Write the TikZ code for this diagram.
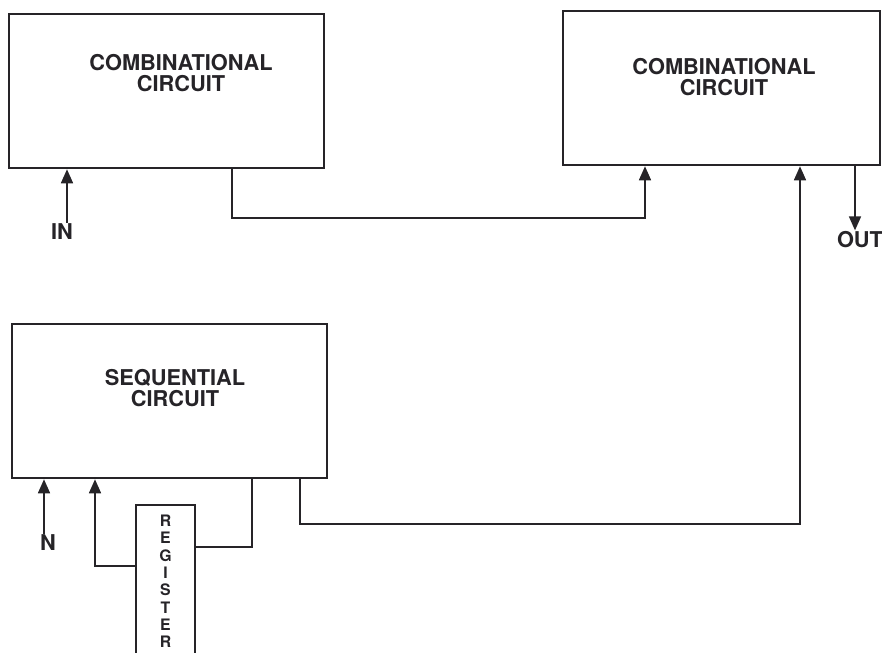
\documentclass[tikz,border=0pt]{standalone}
\usepackage{fontspec}
\setsansfont{TeX Gyre Heros}
\usetikzlibrary{positioning,arrows.meta,calc}
\definecolor{ink}{RGB}{38,36,40}
\tikzset{
  blk/.style={draw=ink, line width=2.2pt, minimum width=#1, minimum height=4.62cm, inner sep=0pt},
  blk/.default={9.45cm},
  title/.style={text=ink, align=center, font=\sffamily\bfseries\fontsize{18.6}{18}\selectfont},
  lbl/.style={text=ink, inner sep=1pt, font=\sffamily\bfseries\fontsize{18.6}{18}\selectfont},
  reg/.style={draw=ink, line width=1.5pt, minimum width=1.77cm, minimum height=4.6cm, align=center, text=ink, font=\sffamily\bfseries\fontsize{13.5}{14.8}\selectfont},
  wire/.style={draw=ink, line width=1.4pt},
  arr/.style={wire, -{Triangle[length=0.42cm, width=0.36cm]}}
}
\begin{document}
\begin{tikzpicture}
  \useasboundingbox (0,0) rectangle (26.46,19.56);
  \clip (0,0) rectangle (26.46,19.56);
  % blocks
  \node[blk] (comb1) at (4.995,16.83) {};
  \node[blk=9.51cm] (comb2) at (21.645,16.92) {};
  \node[blk] (seq) at (5.085,7.53) {};
  \node[title] (t1) at (5.43,17.37) {COMBINATIONAL\\CIRCUIT};
  \node[title] (t2) at (21.72,17.25) {COMBINATIONAL\\CIRCUIT};
  \node[title] (t3) at (5.25,7.92) {SEQUENTIAL\\CIRCUIT};
  \node[reg] (reg) at (4.965,2.12) {R\\E\\G\\I\\S\\T\\E\\R};
  % labels
  \node[lbl] (in) at (1.86,12.6) {IN};
  \node[lbl] (out) at (25.8,12.36) {OUT};
  \node[lbl] (nin) at (1.44,3.27) {N};
  % corners
  \coordinate (c1out) at (6.96,13.02);
  \coordinate (c2in) at (19.35,0);
  \coordinate (sqout) at (9.0,3.84);
  \coordinate (c2up) at (24.0,0);
  \coordinate (fbdn) at (7.56,3.15);
  \coordinate (fbup) at (2.85,2.58);
  % connectors
  \draw[arr] ([xshift=0.15cm]in.north) -- ([xshift=0.15cm]in.north |- comb1.south);
  \draw[arr] ([xshift=-0.15cm]out.north |- comb2.south) -- ([xshift=-0.15cm]out.north);
  \draw[arr] ([xshift=-0.12cm]nin.north) -- ([xshift=-0.12cm]nin.north |- seq.south);
  \draw[arr] (c1out |- comb1.south) -- (c1out) -| (c2in |- comb2.south);
  \draw[arr] (sqout |- seq.south) -- (sqout) -| (c2up |- comb2.south);
  \draw[wire] (fbdn |- seq.south) |- (reg.east |- fbdn);
  \draw[arr] (reg.west |- fbup) -| (fbup |- seq.south);
\end{tikzpicture}
\end{document}
